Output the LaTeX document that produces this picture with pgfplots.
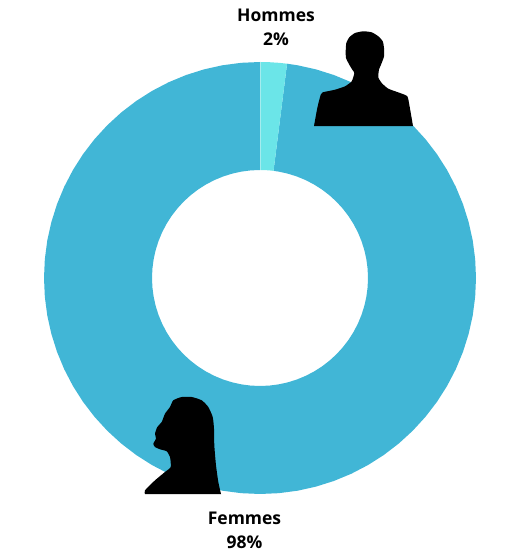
\documentclass[border=0pt]{standalone}
\usepackage{pgfplots}
\pgfplotsset{compat=1.18}
\usepackage{fontspec}
\setmainfont{Open Sans}
\definecolor{ringblue}{HTML}{41B6D6}
\definecolor{ringlight}{HTML}{6BE5E8}
\definecolor{seam}{HTML}{A5ECEE}
\pgfplotsset{
  base/.style={hide axis,scale only axis,width=521pt,height=554pt,clip=false},
}
\begin{document}
\begin{tikzpicture}
% Ring: centre at the origin, radii 216 and 108 (px); shares 98% and 2% (7.2 deg)
\begin{axis}[base,xmin=-260,xmax=261,ymin=-276,ymax=278]
\addplot[fill=ringblue,draw=none,data cs=polar] coordinates {
(82.8,216)(80,216)(75,216)(70,216)(65,216)(60,216)(55,216)(50,216)(45,216)(40,216)(35,216)(30,216)(25,216)(20,216)(15,216)(10,216)(5,216)(0,216)
(-5,216)(-10,216)(-15,216)(-20,216)(-25,216)(-30,216)(-35,216)(-40,216)(-45,216)(-50,216)(-55,216)(-60,216)(-65,216)(-70,216)(-75,216)(-80,216)(-85,216)(-90,216)
(-95,216)(-100,216)(-105,216)(-110,216)(-115,216)(-120,216)(-125,216)(-130,216)(-135,216)(-140,216)(-145,216)(-150,216)(-155,216)(-160,216)(-165,216)(-170,216)(-175,216)(-180,216)
(-185,216)(-190,216)(-195,216)(-200,216)(-205,216)(-210,216)(-215,216)(-220,216)(-225,216)(-230,216)(-235,216)(-240,216)(-245,216)(-250,216)(-255,216)(-260,216)(-265,216)(-270,216)
(-270,108)(-265,108)(-260,108)(-255,108)(-250,108)(-245,108)(-240,108)(-235,108)(-230,108)(-225,108)(-220,108)(-215,108)(-210,108)(-205,108)(-200,108)(-195,108)(-190,108)(-185,108)
(-180,108)(-175,108)(-170,108)(-165,108)(-160,108)(-155,108)(-150,108)(-145,108)(-140,108)(-135,108)(-130,108)(-125,108)(-120,108)(-115,108)(-110,108)(-105,108)(-100,108)(-95,108)
(-90,108)(-85,108)(-80,108)(-75,108)(-70,108)(-65,108)(-60,108)(-55,108)(-50,108)(-45,108)(-40,108)(-35,108)(-30,108)(-25,108)(-20,108)(-15,108)(-10,108)(-5,108)
(0,108)(5,108)(10,108)(15,108)(20,108)(25,108)(30,108)(35,108)(40,108)(45,108)(50,108)(55,108)(60,108)(65,108)(70,108)(75,108)(80,108)(82.8,108)
} --cycle;
\addplot[fill=ringlight,draw=none,data cs=polar] coordinates {
(90,216)(87.5,216)(85,216)(82.8,216)(82.8,108)(85,108)(87.5,108)(90,108)
} --cycle;
\addplot[draw=seam,line width=1pt,data cs=polar] coordinates {(90,108)(90,216)};
\end{axis}
% Silhouettes and labels: coordinates in pixels of the picture
\begin{axis}[base,xmin=0,xmax=521,ymin=0,ymax=554,y dir=reverse]
\path (axis cs:0,0) rectangle (axis cs:521,554);
\addplot[fill=black,draw=none,smooth,tension=0.35] coordinates {
(314,126)(317.3,108)(320.7,94.7)(322.7,92.3)(335,89.7)(345,86.3)(351.7,81.3)(354.3,73)
(352.3,69.7)(349.3,64.7)(346,58)(345.7,51.3)(346.3,43)(349.3,37.3)(355,33)(363.3,31.3)
(371.7,32.3)(378.3,36.3)(382.7,41.3)(384,48)(384,56.3)(381.7,63)(379,69.7)(378.3,77.3)
(381.7,83)(388.3,88.7)(400,93)(407.3,96.3)(409.3,104.7)(413,126)
} --cycle;
\addplot[fill=black,draw=none,smooth,tension=0.35] coordinates {
(145,494)(145,490.3)(155,480.3)(165,472)(170.7,467)(170,457)(166.7,451.3)(160,449.3)
(155,447)(153.3,443.7)(156,438.7)(155,433.7)(157.3,427)(161.7,422)(165,413.7)(170,407)
(173.3,400.3)(181.7,397)(191.7,397)(201.7,400.3)(208.3,407)(212.7,417)(214,428.7)
(214.3,445.3)(216,465.3)(218.3,482)(221,494)
} --cycle;
\node[font=\fontsize{17.5}{17.5}\selectfont\bfseries,inner sep=0pt] at (axis cs:276,15.5) {Hommes};
\node[font=\fontsize{17.5}{17.5}\selectfont\bfseries,inner sep=0pt] at (axis cs:276,39.5) {2\%};
\node[font=\fontsize{17.5}{17.5}\selectfont\bfseries,inner sep=0pt] at (axis cs:244.5,518.5) {Femmes};
\node[font=\fontsize{17.5}{17.5}\selectfont\bfseries,inner sep=0pt] at (axis cs:244.5,542) {98\%};
\end{axis}
\end{tikzpicture}
\end{document}
